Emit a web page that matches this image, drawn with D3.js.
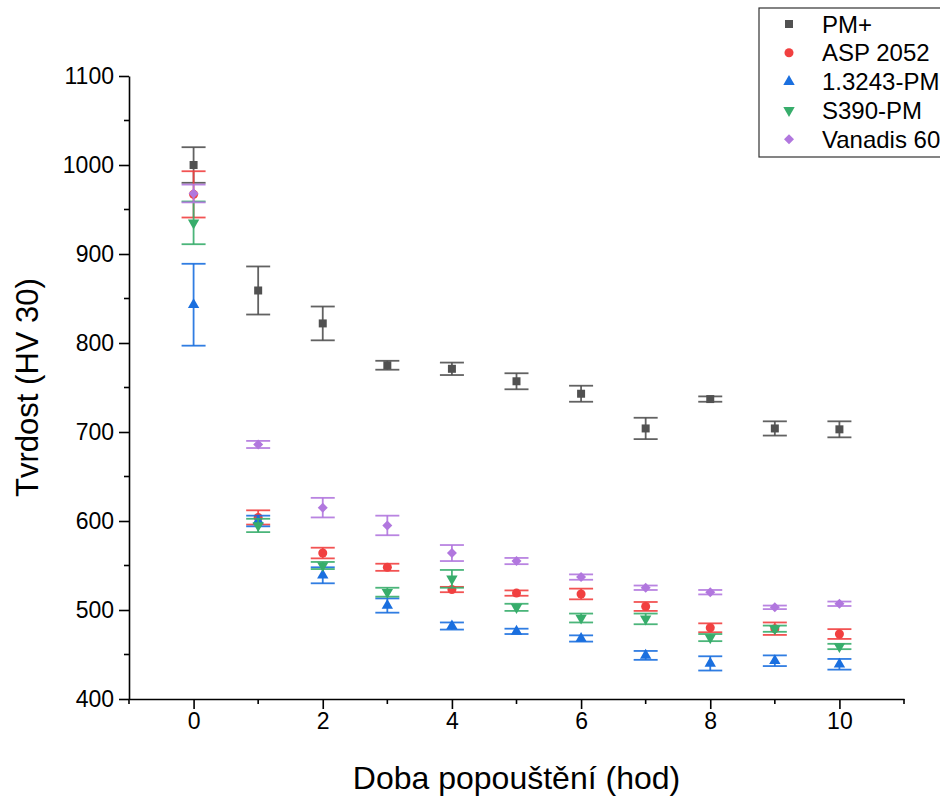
<!DOCTYPE html>
<html>
<head>
<meta charset="utf-8">
<script src="https://cdn.jsdelivr.net/npm/d3@7"></script>
<style>
  body { margin: 0; background: #fff; }
  text { font-family: "Liberation Sans", Arial, sans-serif; fill: #000; }
</style>
</head>
<body>
<div id="chart"></div>
<script>
// hodnoty
var hours = [0, 1, 2, 3, 4, 5, 6, 7, 8, 9, 10];

var pmPlus     = [1000, 859, 822, 775, 771, 757, 743, 704, 737, 704, 703];
var pmPlusErr  = [20, 27, 19, 5, 7, 9, 9, 12, 3, 8, 9];
var asp2052    = [967, 604, 564, 548, 523, 519, 518, 504, 480, 479, 473];
var asp2052Err = [26, 8, 6, 4, 3, 3, 6, 5, 5, 7, 5.5];
var pm13243    = [843, 600, 539, 505, 482, 476, 468, 449, 440, 443, 439];
var pm13243Err = [46, 6, 9, 8, 4, 3, 3.5, 5, 8, 6, 6];
var s390       = [935, 595, 550, 520, 535, 503, 491, 490, 469, 479, 459];
var s390Err    = [24, 7.5, 4, 5, 10, 4, 5, 6, 4, 3.5, 3];
var vanadis    = [968, 686, 615, 595, 564, 555, 537, 525, 520, 503, 507];
var vanadisErr = [10, 4, 11, 11, 9, 3.5, 3, 2.5, 2.5, 2, 2.5];

var seriesNames = ["PM+", "ASP 2052", "1.3243-PM", "S390-PM", "Vanadis 60"];
var xTicks = [0, 2, 4, 6, 8, 10];
var yTicks = [400, 500, 600, 700, 800, 900, 1000, 1100];

var svgWidth = 940;
var svgHeight = 797;

var margin = { top: 76, right: 36, bottom: 98, left: 129 };
var width = svgWidth - margin.left - margin.right;
var height = svgHeight - margin.top - margin.bottom;

var svg = d3.select("#chart")
    .append("svg")
    .attr("width", svgWidth)
    .attr("height", svgHeight);

var chartGroup = svg.append("g")
    .attr("transform", `translate(${margin.left}, ${margin.top})`);

var xScale = d3.scaleLinear().domain([-1, 11]).range([0, width]);
var yScale = d3.scaleLinear().domain([400, 1100]).range([height, 0]);

// osy
var bottomAxis = d3.axisBottom(xScale)
    .tickValues(xTicks)
    .tickFormat(d3.format("d"))
    .tickSize(10)
    .tickSizeOuter(0)
    .tickPadding(4);
var leftAxis = d3.axisLeft(yScale)
    .tickValues(yTicks)
    .tickFormat(d3.format("d"))
    .tickSize(10)
    .tickSizeOuter(0)
    .tickPadding(5);

var xAxis = chartGroup.append("g")
    .attr("transform", `translate(0, ${height})`)
    .call(bottomAxis);

var yAxis = chartGroup.append("g")
    .call(leftAxis);

// vedlejší ryski
xAxis.selectAll(".minor")
    .data(d3.range(-1, 12, 2))
    .enter().append("line")
    .attr("x1", d => xScale(d))
    .attr("x2", d => xScale(d))
    .attr("y1", 0)
    .attr("y2", 5);

yAxis.selectAll(".minor")
    .data(d3.range(450, 1100, 100))
    .enter().append("line")
    .attr("y1", d => yScale(d))
    .attr("y2", d => yScale(d))
    .attr("x1", 0)
    .attr("x2", -5);

[xAxis, yAxis].forEach(function(ax) {
    ax.selectAll("path.domain").attr("stroke", "#000").attr("stroke-width", 1.6);
    ax.selectAll("line").attr("stroke", "#000").attr("stroke-width", 1.6);
    ax.selectAll("text").style("font-size", "23px").attr("fill", "#000");
});

// popisky os
svg.append("text")
    .attr("x", margin.left + width / 2)
    .attr("y", 789)
    .attr("text-anchor", "middle")
    .style("font-size", "32px")
    .text("Doba popouštění (hod)");

svg.append("text")
    .attr("transform", `translate(38, ${margin.top + height / 2}) rotate(-90)`)
    .attr("text-anchor", "middle")
    .style("font-size", "31px")
    .text("Tvrdost (HV 30)");

// řady
var colors = ["#515151", "#F14040", "#1A6FDF", "#37AD6B", "#B177DE"];
var symbols = [
    { type: d3.symbolSquare, size: 64, rot: 0 },
    { type: d3.symbolCircle, size: 64, rot: 0 },
    { type: d3.symbolTriangle, size: 56, rot: 0 },
    { type: d3.symbolTriangle, size: 56, rot: 180 },
    { type: d3.symbolSquare, size: 50, rot: 45 }
];
var values = [pmPlus, asp2052, pm13243, s390, vanadis];
var errors = [pmPlusErr, asp2052Err, pm13243Err, s390Err, vanadisErr];

var capHalf = 12;

values.forEach(function(vals, i) {
    var data = hours.map((h, j) => ({ x: h, y: vals[j], e: errors[i][j] }));
    var g = chartGroup.append("g")
        .attr("stroke", colors[i])
        .attr("stroke-width", 1.8)
        .attr("stroke-opacity", 0.9);

    var bars = g.selectAll("g.err")
        .data(data)
        .enter().append("g");

    bars.append("line")
        .attr("x1", d => xScale(d.x))
        .attr("x2", d => xScale(d.x))
        .attr("y1", d => yScale(d.y + d.e))
        .attr("y2", d => yScale(d.y - d.e));
    bars.append("line")
        .attr("x1", d => xScale(d.x) - capHalf)
        .attr("x2", d => xScale(d.x) + capHalf)
        .attr("y1", d => yScale(d.y + d.e))
        .attr("y2", d => yScale(d.y + d.e));
    bars.append("line")
        .attr("x1", d => xScale(d.x) - capHalf)
        .attr("x2", d => xScale(d.x) + capHalf)
        .attr("y1", d => yScale(d.y - d.e))
        .attr("y2", d => yScale(d.y - d.e));

    var sym = d3.symbol().type(symbols[i].type).size(symbols[i].size);
    chartGroup.append("g").selectAll("path")
        .data(data)
        .enter().append("path")
        .attr("d", sym)
        .attr("transform", d => `translate(${xScale(d.x)}, ${yScale(d.y)}) rotate(${symbols[i].rot})`)
        .attr("fill", colors[i]);
});

// legenda
var legend = svg.append("g").attr("transform", "translate(759, 8)");
legend.append("rect")
    .attr("x", 0)
    .attr("y", 0)
    .attr("width", 200)
    .attr("height", 149)
    .attr("fill", "#fff")
    .attr("stroke", "#333")
    .attr("stroke-width", 1.2);

var legendRows = legend.selectAll("g.row")
    .data(seriesNames)
    .enter().append("g")
    .attr("transform", (d, i) => `translate(0, ${16 + i * 28.8})`);

legendRows.append("path")
    .attr("d", (d, i) => d3.symbol().type(symbols[i].type).size(symbols[i].size)())
    .attr("transform", (d, i) => `translate(30, 0) rotate(${symbols[i].rot})`)
    .attr("fill", (d, i) => colors[i]);

legendRows.append("text")
    .attr("x", 63)
    .attr("y", 0)
    .attr("dy", "0.36em")
    .style("font-size", "24px")
    .text(d => d);
</script>
</body>
</html>
